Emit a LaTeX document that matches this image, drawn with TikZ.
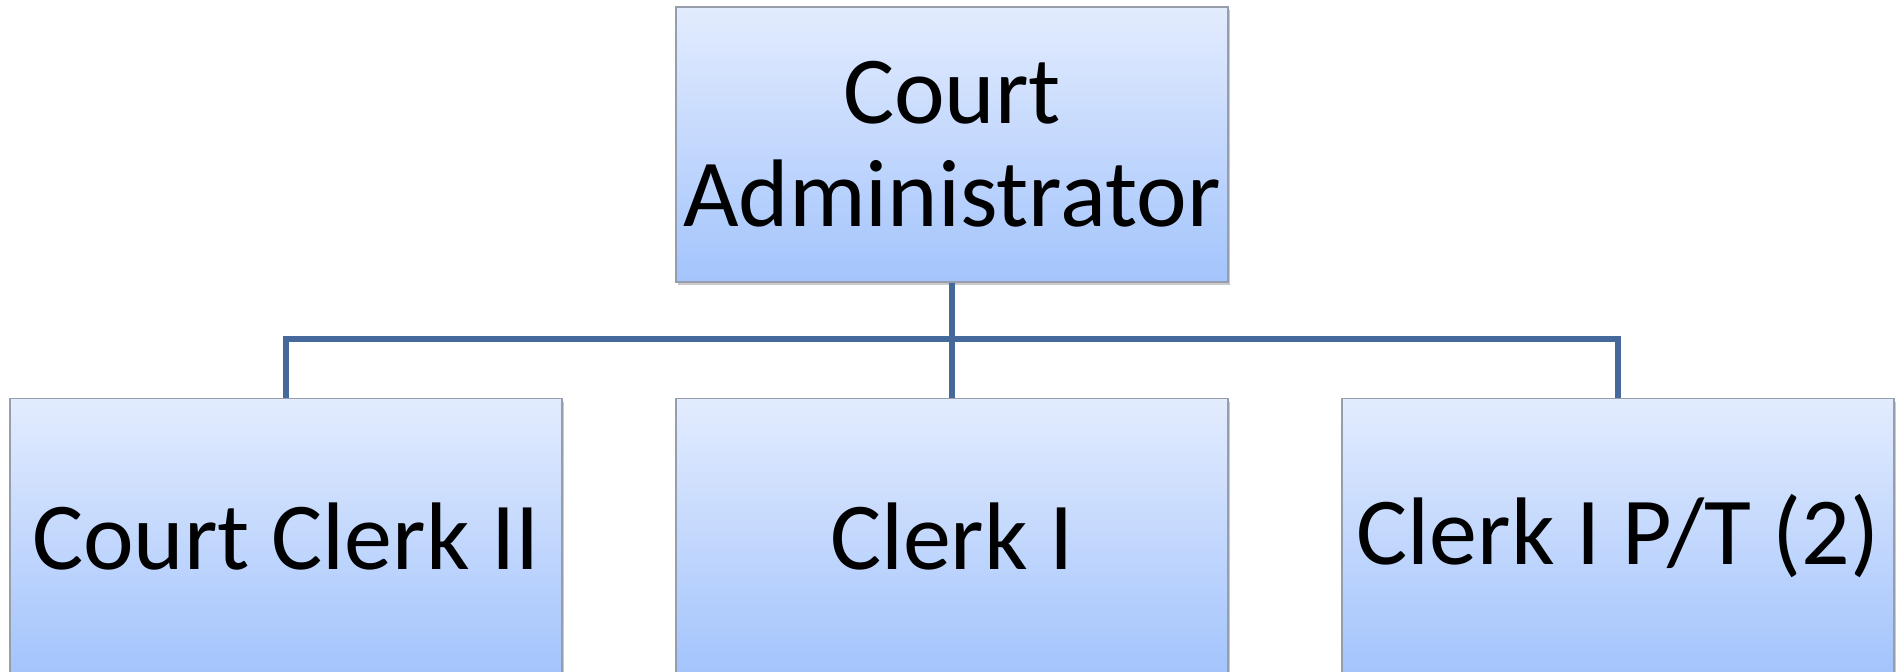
\documentclass[tikz,border=0pt]{standalone}
\usepackage{fontspec}
\setmainfont{Carlito}
\usetikzlibrary{shadows}
\definecolor{boxtop}{RGB}{227,236,254}
\definecolor{boxbot}{RGB}{163,196,252}
\definecolor{boxline}{RGB}{150,158,172}
\definecolor{conn}{RGB}{68,105,154}
\tikzset{
  orgbox/.style={rectangle, draw=boxline, line width=0.6pt,
    top color=boxtop, bottom color=boxbot,
    minimum width=276pt, minimum height=137.5pt, inner sep=0pt,
    align=center, font=\fontsize{48}{51.5}\selectfont,
    drop shadow={shadow xshift=1pt, shadow yshift=-1.5pt, opacity=0.35, fill=black!60}},
  connline/.style={draw=conn, line width=2.7pt}
}
\begin{document}
\begin{tikzpicture}[x=0.5pt,y=-0.5pt]
\useasboundingbox (0,0) rectangle (1902,672);
\node[orgbox] (admin) at (952,144.5) {Court\\Administrator};
\node[orgbox, anchor=north] (cc2) at (286,398) {Court Clerk II};
\node[orgbox, anchor=north] (c1) at (952,398) {Clerk I};
\node[orgbox, anchor=north] (c1pt) at (1618,398) {Clerk I P/T (2)};
\coordinate (bus) at (952,339);
\draw[connline] (admin.south) -- (bus);
\draw[connline] (cc2.north) |- (bus) -| (c1pt.north);
\draw[connline] (bus) -- (c1.north);
\end{tikzpicture}
\end{document}
